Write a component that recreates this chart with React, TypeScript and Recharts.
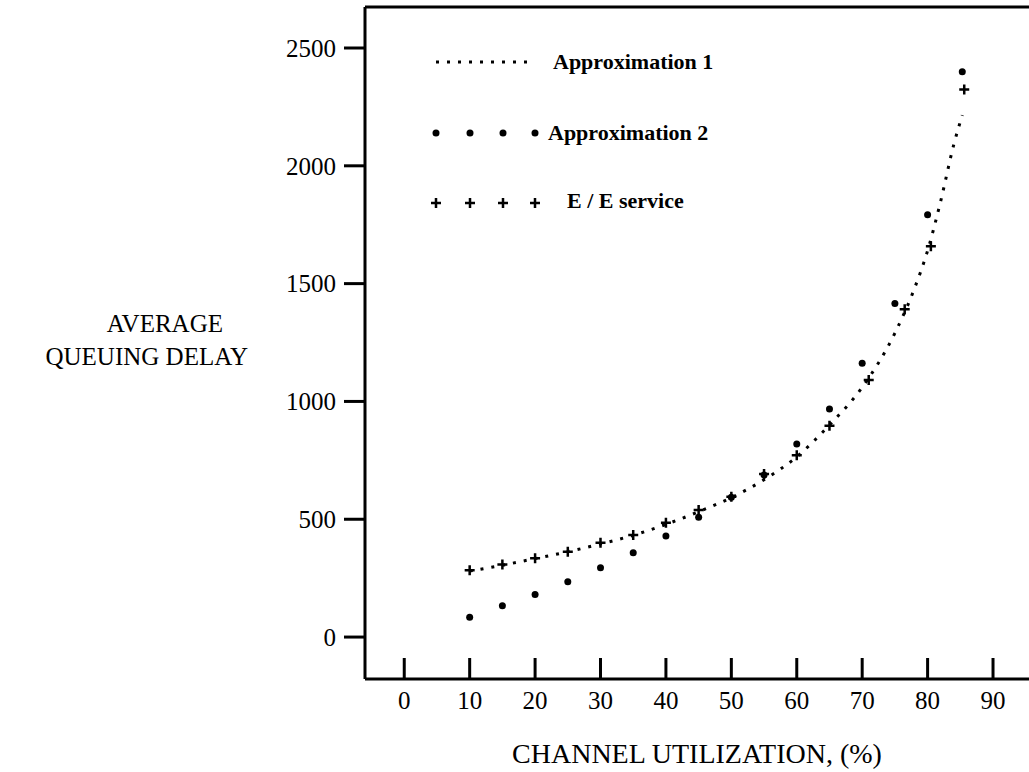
import React from "react";
import {
  ComposedChart,
  Line,
  Scatter,
  XAxis,
  YAxis,
  ReferenceLine,
  Legend,
} from "recharts";

// channel utilization (%) ticks and delay ticks
const xTicks = [0, 10, 20, 30, 40, 50, 60, 70, 80, 90];
const yTicks = [0, 500, 1000, 1500, 2000, 2500];

// Approximation 1 - dotted curve
const approx1Util = [10, 15, 20, 25, 30, 35, 40, 45, 50, 55, 60, 65, 70, 75, 78, 80, 82, 84, 85.3];
const approx1Delay = [280, 305, 333, 362, 395, 432, 478, 532, 592, 668, 765, 900, 1060, 1290, 1480, 1640, 1850, 2090, 2215];

// Approximation 2 - dots
const approx2Util = [10, 15, 20, 25, 30, 35, 40, 45, 50, 55, 60, 65, 70, 75, 80, 85.3];
const approx2Delay = [84, 133, 181, 235, 294, 358, 429, 508, 593, 688, 819, 968, 1162, 1416, 1792, 2399];

// E / E service - plus marks
const eeUtil = [10, 15, 20, 25, 30, 35, 40, 45, 50, 55, 60, 65, 71, 76.5, 80.5, 85.6];
const eeDelay = [284, 308, 334, 362, 400, 433, 485, 539, 595, 692, 772, 897, 1091, 1391, 1659, 2324];

const legendLabels = ["Approximation 1", "Approximation 2", "E / E service"];

const X_DOMAIN: [number, number] = [-6, 95.5];
const Y_DOMAIN: [number, number] = [-178, 2674];
const X_TICK_MARGIN = 12;
const FONT = "'Liberation Serif', 'Times New Roman', serif";

const approx1 = approx1Util.map((u, i) => ({ x: u, y: approx1Delay[i] }));
const approx2 = approx2Util.map((u, i) => ({ x: u, y: approx2Delay[i] }));
const ee = eeUtil.map((u, i) => ({ x: u, y: eeDelay[i] }));

const Dot = (props: any) => {
  const { cx, cy } = props;
  return <circle cx={cx} cy={cy} r={3.5} fill="#000" />;
};

const Plus = (props: any) => {
  const { cx, cy } = props;
  return (
    <path
      d={`M${cx - 5},${cy}H${cx + 5}M${cx},${cy - 5}V${cy + 5}`}
      stroke="#000"
      strokeWidth={2.5}
      fill="none"
    />
  );
};

// ticks point up into the plot, label below the axis
const XTick = (props: any) => {
  const { x, y, payload } = props;
  const axisY = y - X_TICK_MARGIN;
  return (
    <g>
      <line x1={x} x2={x} y1={axisY} y2={axisY - 21} stroke="#000" strokeWidth={3} />
      <text x={x} y={y} dy="0.71em" textAnchor="middle" fontSize={25} fill="#000" fontFamily={FONT}>
        {payload.value}
      </text>
    </g>
  );
};

const YTitle = (props: any) => {
  const { viewBox } = props;
  const mid = viewBox.y + viewBox.height / 2;
  return (
    <text fontSize={25} fill="#000" fontFamily={FONT} textAnchor="end">
      <tspan x={223} y={mid - 11}>AVERAGE</tspan>
      <tspan x={248} y={mid + 22}>QUEUING DELAY</tspan>
    </text>
  );
};

const LegendBox = () => {
  const markX = [16, 50, 83, 115];
  const textStyle = { fontSize: 22, fontWeight: 700, fill: "#000", fontFamily: FONT };
  return (
    <svg width={320} height={200}>
      <line x1={16} x2={115} y1={32} y2={32} stroke="#000" strokeWidth={3} strokeDasharray="3 8" />
      <text x={133} y={39} {...textStyle}>{legendLabels[0]}</text>
      {markX.map((mx) => (
        <circle key={`d${mx}`} cx={mx} cy={103} r={3.5} fill="#000" />
      ))}
      <text x={128} y={110} {...textStyle}>{legendLabels[1]}</text>
      {markX.map((mx) => (
        <Plus key={`p${mx}`} cx={mx} cy={173} />
      ))}
      <text x={147} y={178} {...textStyle}>{legendLabels[2]}</text>
    </svg>
  );
};

export default function App() {
  return (
    <div style={{ position: "absolute", left: 0, top: 0, fontFamily: FONT, background: "#fff" }}>
      <ComposedChart width={1029} height={772} margin={{ top: 7, right: 0, bottom: 0, left: 0 }}>
        <XAxis
          type="number"
          dataKey="x"
          domain={X_DOMAIN}
          ticks={xTicks}
          allowDataOverflow
          height={93}
          tickSize={0}
          tickMargin={X_TICK_MARGIN}
          tickLine={false}
          tick={<XTick />}
          axisLine={{ stroke: "#000", strokeWidth: 3 }}
          label={{
            value: "CHANNEL UTILIZATION, (%)",
            position: "insideBottom",
            offset: 9,
            fontSize: 28,
            fill: "#000",
            fontFamily: FONT,
          }}
        />
        <YAxis
          type="number"
          dataKey="y"
          domain={Y_DOMAIN}
          ticks={yTicks}
          allowDataOverflow
          width={365}
          tickSize={21}
          tickMargin={8}
          tickLine={{ stroke: "#000", strokeWidth: 3 }}
          axisLine={{ stroke: "#000", strokeWidth: 3 }}
          tick={{ fill: "#000", fontSize: 25, fontFamily: FONT }}
          label={{ content: <YTitle /> }}
        />
        <ReferenceLine y={Y_DOMAIN[1]} stroke="#000" strokeWidth={3} ifOverflow="extendDomain" />
        <Line
          data={approx1}
          dataKey="y"
          type="monotone"
          stroke="#000"
          strokeWidth={3}
          strokeDasharray="3 8"
          dot={false}
          activeDot={false}
          isAnimationActive={false}
          legendType="none"
        />
        <Scatter data={approx2} dataKey="y" shape={<Dot />} isAnimationActive={false} legendType="none" />
        <Scatter data={ee} dataKey="y" shape={<Plus />} isAnimationActive={false} legendType="none" />
        <Legend
          layout="horizontal"
          verticalAlign="middle"
          align="center"
          content={<LegendBox />}
          wrapperStyle={{ left: 420, top: 30, width: 320, height: 200 }}
        />
      </ComposedChart>
    </div>
  );
}
